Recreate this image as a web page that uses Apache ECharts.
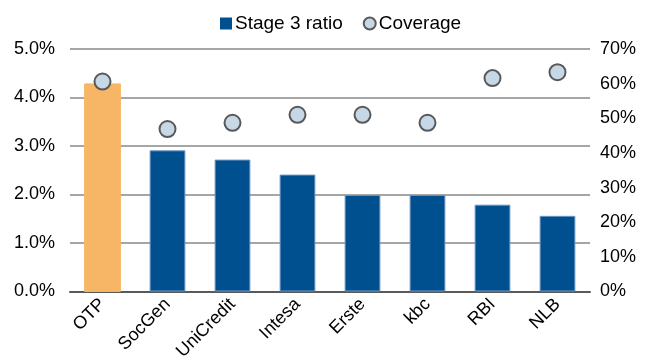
<!DOCTYPE html>
<html>
<head>
<meta charset="utf-8">
<script src="https://cdn.jsdelivr.net/npm/echarts@6/dist/echarts.min.js"></script>
<style>
  html, body { margin: 0; padding: 0; background: #fff; }
  #chart { width: 647px; height: 363px; }
</style>
</head>
<body>
<div id="chart"></div>
<script>
const banks = ['OTP', 'SocGen', 'UniCredit', 'Intesa', 'Erste', 'kbc', 'RBI', 'NLB'];
const stage3Ratio = [4.28, 2.91, 2.72, 2.41, 1.99, 1.99, 1.79, 1.56];
const coverage = [60.6, 46.9, 48.7, 51.0, 51.0, 48.7, 61.6, 63.3];
const highlightBank = 'OTP';

const chart = echarts.init(document.getElementById('chart'));
const font = 'Liberation Sans, Arial, sans-serif';

const option = {
  animation: false,
  textStyle: { fontFamily: font },
  legend: {
    top: 9,
    left: 215,
    itemGap: 20,
    itemWidth: 12,
    itemHeight: 12,
    textStyle: { fontSize: 19, color: '#000', fontFamily: font, padding: [0, 0, 0, -2] },
    data: [
      { name: 'Stage 3 ratio', icon: 'rect', itemStyle: { color: '#004F8F' } },
      { name: 'Coverage', icon: 'circle', itemStyle: { color: '#C6D7E6', borderColor: '#595959', borderWidth: 2 } }
    ]
  },
  grid: { left: 70, right: 57, top: 49, bottom: 71 },
  xAxis: {
    type: 'category',
    data: banks,
    axisTick: { show: false },
    axisLine: { lineStyle: { color: '#595959', width: 2 } },
    axisLabel: { rotate: 45, fontSize: 18, color: '#000', margin: 10, interval: 0 }
  },
  yAxis: [
    {
      type: 'value',
      min: 0, max: 5, interval: 1,
      axisLabel: { fontSize: 18, color: '#000', margin: 15, formatter: v => v.toFixed(1) + '%' },
      splitLine: { lineStyle: { color: '#A6A6A6', width: 2 } },
      axisLine: { show: false },
      axisTick: { show: false }
    },
    {
      type: 'value',
      min: 0, max: 70, interval: 10,
      axisLabel: { fontSize: 18, color: '#000', margin: 10, formatter: v => v + '%' },
      splitLine: { show: false },
      axisLine: { show: false },
      axisTick: { show: false }
    }
  ],
  series: [
    {
      name: 'Stage 3 ratio',
      type: 'bar',
      barWidth: '55%',
      data: stage3Ratio.map((v, i) => ({
        value: v,
        itemStyle: banks[i] === highlightBank
          ? { color: '#F7B566', borderColor: '#F7B566' }
          : { color: '#004F8F', borderColor: '#6C97C2', borderWidth: 1 }
      }))
    },
    {
      name: 'Coverage',
      type: 'scatter',
      yAxisIndex: 1,
      symbol: 'circle',
      symbolSize: 16,
      itemStyle: { color: '#C6D7E6', borderColor: '#595959', borderWidth: 2, opacity: 1 },
      data: coverage,
      z: 5
    }
  ]
};

chart.setOption(option);
</script>
</body>
</html>
